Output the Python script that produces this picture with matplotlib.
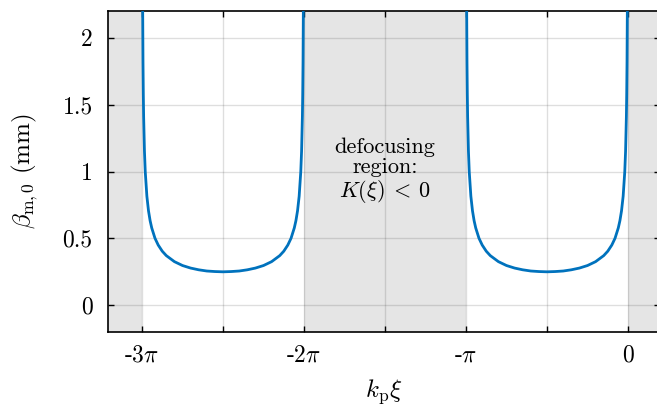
import numpy as np
import matplotlib
matplotlib.use("Agg")
from matplotlib import pyplot as plt

plt.rcParams['font.family'] = 'serif'
plt.rcParams['font.serif'] = ['cmr10']
plt.rcParams['mathtext.fontset'] = 'cm'
plt.rcParams['axes.unicode_minus'] = False

# offset from start of each focusing lobe (units of pi) and beta (mm)
lobe_start = [-3.0, -1.0]
offset = [0.0035, 0.004, 0.006, 0.008, 0.01, 0.015, 0.02, 0.03, 0.04, 0.05, 0.06,
          0.08, 0.1, 0.125, 0.15, 0.2, 0.25, 0.3, 0.35, 0.4, 0.45, 0.5]
beta = [2.384, 2.230, 1.821, 1.577, 1.411, 1.152, 0.998, 0.815, 0.706, 0.632, 0.578,
        0.501, 0.450, 0.404, 0.371, 0.326, 0.297, 0.278, 0.265, 0.256, 0.252, 0.250]

# defocusing regions (units of pi)
shade = [(-4.0, -3.0), (-2.0, -1.0), (0.0, 1.0)]

xticks = [-3, -2.5, -2, -1.5, -1, -0.5, 0]
xticklabels = ['-3$\\pi$', '', '-2$\\pi$', '', '-$\\pi$', '', '0']
yticks = [0, 0.5, 1, 1.5, 2]
yticklabels = ['0', '0.5', '1', '1.5', '2']

fig = plt.figure(figsize=(6.57, 4.08), dpi=100)
ax = fig.add_axes([108 / 657, 76 / 408, 552 / 657, 321 / 408])

for a, b in shade:
    ax.axvspan(a * np.pi, b * np.pi, color='#e5e5e5', lw=0, zorder=1)

half = np.array(offset)
yb = np.array(beta)
for s in lobe_start:
    xs = np.concatenate([s + half, (s + 1 - half)[::-1]]) * np.pi
    ys = np.concatenate([yb, yb[::-1]])
    ax.plot(xs, ys, color='#0072bd', lw=2.0, zorder=3)

ax.set_xlim(-3.21 * np.pi, 0.1975 * np.pi)
ax.set_ylim(-0.2, 2.2)
ax.set_xticks(np.array(xticks) * np.pi)
ax.set_xticklabels(xticklabels)
ax.set_yticks(yticks)
ax.set_yticklabels(yticklabels)
ax.tick_params(direction='in', top=True, right=True, length=4, width=1,
               labelsize=17)
ax.tick_params(axis='x', pad=9)
ax.tick_params(axis='y', pad=11)
ax.grid(True, color=(0.15, 0.15, 0.15), alpha=0.15, lw=1, zorder=2)
for sp in ax.spines.values():
    sp.set_linewidth(1.2)

ax.text(-1.5 * np.pi, 1.0, 'defocusing\nregion:\n$K(\\xi)\\:<\\:0$', ha='center',
        va='center', fontsize=16, multialignment='center', zorder=4,
        linespacing=1.05)

ax.set_xlabel('$k_\\mathrm{p}\\xi$', fontsize=18, labelpad=8)
ax.set_ylabel('$\\beta_{\\mathrm{m},0}$ (mm)', fontsize=18, labelpad=16)

fig.savefig('out.png', dpi=100)
